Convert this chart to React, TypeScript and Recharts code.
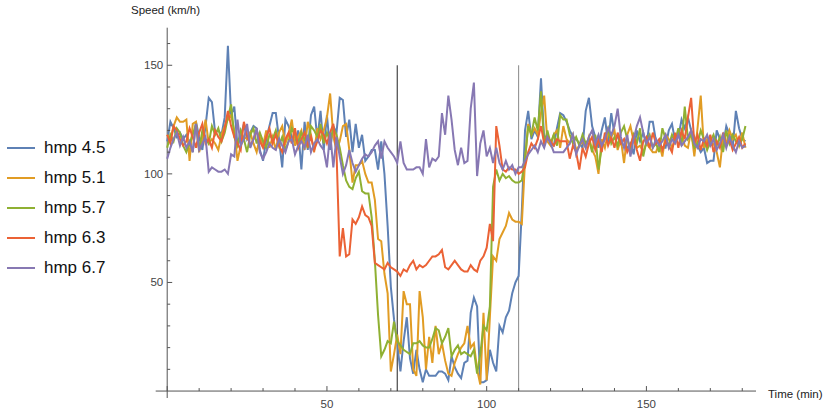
import { LineChart, Line, XAxis, YAxis, ReferenceLine } from "recharts";

// minutes 0..181
const TIME = Array.from({ length: 182 }, (_, i) => i);

const HMP_45 = [
  115, 124, 121, 117, 119, 116, 118, 114, 110, 124,
  117, 111, 122, 135, 133, 119, 120, 118, 126, 159,
  127, 131, 113, 117, 123, 116, 119, 122, 121, 111,
  106, 116, 122, 128, 128, 116, 103, 125, 122, 117,
  114, 120, 102, 124, 111, 127, 131, 116, 129, 111,
  127, 111, 122, 119, 135, 134, 117, 125, 110, 123,
  112, 118, 106, 108, 111, 111, 102, 115, 100, 76,
  48, 33, 22, 9, 23, 34, 15, 8, 19, 10,
  4, 10, 7, 7, 7, 9, 9, 8, 5, 16,
  11, 8, 6, 13, 14, 36, 43, 39, 4, 4,
  5, 19, 13, 9, 30, 27, 34, 37, 45, 50,
  53, 83, 120, 129, 116, 120, 117, 144, 116, 118,
  114, 113, 121, 128, 127, 124, 120, 117, 116, 114,
  112, 129, 135, 122, 117, 112, 120, 126, 114, 128,
  118, 117, 114, 113, 112, 114, 109, 120, 115, 119,
  113, 124, 124, 115, 114, 112, 112, 120, 123, 115,
  117, 125, 121, 126, 120, 117, 113, 110, 112, 105,
  106, 106, 120, 116, 113, 122, 118, 112, 129, 121,
  116, 115,
];

const HMP_51 = [
  118, 116, 122, 126, 124, 124, 125, 106, 123, 124,
  110, 116, 125, 114, 116, 114, 111, 118, 122, 125,
  127, 120, 106, 113, 117, 116, 119, 114, 110, 117,
  113, 120, 112, 117, 111, 119, 122, 114, 118, 125,
  113, 117, 120, 111, 124, 118, 110, 121, 116, 120,
  126, 137, 117, 111, 115, 122, 123, 111, 96, 104,
  104, 106, 100, 96, 96, 88, 70, 69, 54, 45,
  9, 17, 26, 17, 46, 40, 40, 10, 7, 46,
  34, 10, 25, 13, 30, 17, 22, 14, 8, 7,
  13, 17, 20, 22, 30, 20, 22, 10, 3, 36,
  5, 34, 62, 60, 70, 73, 76, 82, 79, 78,
  78, 77, 106, 123, 118, 121, 118, 128, 136, 115,
  113, 118, 120, 112, 122, 116, 114, 118, 111, 113,
  115, 112, 117, 111, 108, 100, 116, 112, 119, 117,
  120, 111, 116, 105, 118, 122, 115, 112, 113, 110,
  114, 112, 110, 110, 114, 108, 118, 116, 112, 115,
  118, 119, 113, 112, 120, 108, 121, 136, 112, 116,
  113, 114, 110, 103, 117, 114, 120, 116, 118, 113,
  119, 112,
];

const HMP_57 = [
  112, 118, 115, 121, 119, 113, 110, 114, 118, 123,
  111, 120, 116, 114, 122, 118, 121, 115, 119, 126,
  132, 117, 113, 120, 116, 110, 118, 121, 114, 119,
  115, 112, 118, 116, 120, 113, 117, 111, 115, 121,
  118, 113, 119, 116, 112, 122, 120, 117, 123, 114,
  119, 115, 121, 118, 112, 104, 97, 94, 93, 98,
  101, 92, 91, 91, 80, 60, 35, 16, 19, 23,
  22, 32, 23, 21, 19, 18, 17, 22, 22, 23,
  21, 20, 20, 24, 29, 28, 22, 25, 29, 16,
  19, 21, 17, 18, 17, 16, 19, 8, 17, 30,
  28, 39, 94, 102, 97, 100, 98, 99, 97, 96,
  96, 97, 107, 122, 118, 126, 120, 138, 113, 120,
  114, 118, 113, 127, 125, 125, 118, 114, 117, 113,
  118, 114, 116, 110, 118, 102, 112, 117, 121, 114,
  117, 113, 119, 122, 116, 112, 118, 114, 121, 108,
  115, 118, 112, 114, 110, 121, 116, 113, 118, 115,
  121, 113, 131, 116, 118, 112, 114, 120, 116, 111,
  115, 118, 113, 117, 110, 120, 114, 118, 115, 113,
  116, 122,
];

const HMP_63 = [
  118, 114, 122, 120, 116, 113, 115, 121, 117, 112,
  119, 123, 114, 116, 112, 120, 117, 115, 121, 129,
  122, 117, 114, 111, 124, 118, 113, 116, 120, 115,
  112, 117, 121, 114, 118, 113, 110, 116, 119, 114,
  121, 112, 116, 119, 113, 117, 111, 115, 120, 118,
  114, 119, 123, 110, 62, 75, 62, 63, 79, 77,
  80, 85, 81, 80, 76, 59, 58, 57, 56, 59,
  57, 56, 55, 53, 56, 55, 58, 60, 56, 58,
  57, 58, 60, 62, 62, 63, 65, 57, 56, 58,
  60, 58, 56, 55, 55, 58, 56, 55, 60, 62,
  66, 77, 69, 122, 113, 102, 101, 103, 102, 102,
  100, 101, 103, 110, 114, 112, 116, 122, 114, 117,
  115, 113, 116, 115, 115, 115, 107, 113, 110, 102,
  112, 108, 114, 117, 111, 116, 110, 119, 113, 117,
  112, 119, 114, 116, 110, 113, 118, 111, 106, 115,
  117, 112, 119, 114, 116, 111, 115, 113, 110, 119,
  112, 120, 116, 126, 135, 114, 118, 111, 116, 113,
  118, 110, 115, 112, 119, 113, 116, 111, 114, 117,
  112, 114,
];

const HMP_67 = [
  107, 112, 116, 119, 113, 117, 112, 115, 110, 123,
  111, 114, 117, 101, 103, 102, 101, 101, 102, 100,
  109, 108, 125, 113, 116, 123, 112, 116, 121, 110,
  107, 110, 114, 112, 111, 116, 113, 110, 115, 116,
  109, 113, 115, 112, 118, 110, 114, 116, 113, 111,
  103, 119, 103, 117, 108, 100, 104, 111, 105, 101,
  104, 107, 109, 108, 110, 113, 115, 107, 115, 112,
  110, 108, 105, 115, 105, 102, 102, 102, 103, 103,
  100, 116, 103, 107, 106, 108, 128, 118, 136, 125,
  111, 104, 112, 105, 106, 130, 142, 99, 114, 120,
  108, 112, 105, 112, 105, 102, 106, 102, 104, 100,
  103, 103, 106, 109, 111, 113, 110, 115, 112, 117,
  114, 110, 110, 110, 110, 112, 114, 118, 109, 113,
  116, 112, 117, 120, 114, 118, 113, 116, 121, 118,
  122, 130, 117, 112, 118, 108, 116, 122, 126, 119,
  114, 117, 112, 116, 113, 115, 118, 112, 116, 114,
  118, 113, 115, 117, 120, 114, 112, 116, 115, 118,
  113, 116, 111, 114, 118, 112, 117, 113, 110, 115,
  112, 113,
];

const SERIES = [
  { key: "hmp 4.5", values: HMP_45, color: "#5E81B5" },
  { key: "hmp 5.1", values: HMP_51, color: "#E19C24" },
  { key: "hmp 5.7", values: HMP_57, color: "#8FB032" },
  { key: "hmp 6.3", values: HMP_63, color: "#EB6235" },
  { key: "hmp 6.7", values: HMP_67, color: "#8778B3" },
];

const X_TICKS = [0, 10, 20, 30, 40, 50, 60, 70, 80, 90, 100, 110, 120, 130, 140, 150, 160, 170, 180];
const Y_TICKS = [10, 20, 30, 40, 50, 60, 70, 80, 90, 100, 110, 120, 130, 140, 150, 160];
const MARKERS = [
  { t: 72, color: "#222" },
  { t: 110, color: "#888" },
];

const W = 830;
const H = 414;
const Y_AXIS_W = 40;
const X_AXIS_H = 16;
const MARGIN = { top: 27.7, right: 74, bottom: 0, left: 155.7 - Y_AXIS_W };
const X_DOMAIN = [-3.6, 184.3];
const Y_DOMAIN = [-3.2, 167.3];
const FONT = "'Liberation Sans', Arial, sans-serif";
const AXIS_COLOR = "#555";
const LABEL_COLOR = "#444";

// pixel position of the axes crossing (x=0, y=0)
const PLOT_L = MARGIN.left + Y_AXIS_W;
const PLOT_W = W - PLOT_L - MARGIN.right;
const PLOT_H = H - MARGIN.top - MARGIN.bottom - X_AXIS_H;
const AXIS_X = PLOT_L + (PLOT_W * (0 - X_DOMAIN[0])) / (X_DOMAIN[1] - X_DOMAIN[0]);
const AXIS_Y = MARGIN.top + (PLOT_H * (Y_DOMAIN[1] - 0)) / (Y_DOMAIN[1] - Y_DOMAIN[0]);

const data = TIME.map((t, i) => {
  const row: Record<string, number> = { t };
  SERIES.forEach((s) => {
    row[s.key] = s.values[i];
  });
  return row;
});

function XTick(props: any) {
  const { x, payload } = props;
  const v = payload.value;
  const major = v % 50 === 0;
  return (
    <g>
      <line x1={x} x2={x} y1={AXIS_Y} y2={AXIS_Y - (major ? 5 : 3)} stroke={AXIS_COLOR} />
      {major && v !== 0 && (
        <text x={x} y={AXIS_Y + 17} textAnchor="middle" fontSize={11.5} fontFamily={FONT} fill={LABEL_COLOR}>
          {v}
        </text>
      )}
    </g>
  );
}

function YTick(props: any) {
  const { y, payload } = props;
  const v = payload.value;
  const major = v % 50 === 0;
  return (
    <g>
      <line x1={AXIS_X} x2={AXIS_X + (major ? 5 : 3)} y1={y} y2={y} stroke={AXIS_COLOR} />
      {major && (
        <text x={AXIS_X - 4} y={y} dy={4} textAnchor="end" fontSize={11.5} fontFamily={FONT} fill={LABEL_COLOR}>
          {v}
        </text>
      )}
    </g>
  );
}

export default function App() {
  return (
    <div style={{ position: "absolute", left: 0, top: 0, width: W, height: H, fontFamily: FONT }}>
      <LineChart width={W} height={H} data={data} margin={MARGIN}>
        <XAxis
          type="number"
          dataKey="t"
          domain={X_DOMAIN}
          ticks={X_TICKS}
          interval={0}
          height={X_AXIS_H}
          axisLine={false}
          tickLine={false}
          tick={(p: any) => <XTick {...p} key={p.index} />}
          allowDataOverflow
        />
        <YAxis
          type="number"
          domain={Y_DOMAIN}
          ticks={Y_TICKS}
          interval={0}
          width={Y_AXIS_W}
          axisLine={false}
          tickLine={false}
          tick={(p: any) => <YTick {...p} key={p.index} />}
          allowDataOverflow
        />

        <ReferenceLine x={0} stroke={AXIS_COLOR} />
        <ReferenceLine y={0} stroke={AXIS_COLOR} />

        {MARKERS.map((m) => (
          <ReferenceLine
            key={m.t}
            segment={[
              { x: m.t, y: 0 },
              { x: m.t, y: 150 },
            ]}
            stroke={m.color}
            strokeWidth={1}
          />
        ))}

        {SERIES.map((s) => (
          <Line
            key={s.key}
            type="linear"
            dataKey={s.key}
            stroke={s.color}
            strokeWidth={2}
            dot={false}
            isAnimationActive={false}
          />
        ))}
      </LineChart>

      {/* axis titles */}
      <div style={{ position: "absolute", left: 131, top: 4, fontSize: 11.5, color: "#222" }}>
        Speed (km/h)
      </div>
      <div style={{ position: "absolute", left: 768, top: 388, fontSize: 11.5, color: "#222" }}>
        Time (min)
      </div>

      {/* legend */}
      <div style={{ position: "absolute", left: 7, top: 133 }}>
        {SERIES.map((s) => (
          <div key={s.key} style={{ display: "flex", alignItems: "center", height: 30 }}>
            <div style={{ width: 28, height: 2, background: s.color }} />
            <span style={{ marginLeft: 9, fontSize: 17, color: "#111" }}>{s.key}</span>
          </div>
        ))}
      </div>
    </div>
  );
}
